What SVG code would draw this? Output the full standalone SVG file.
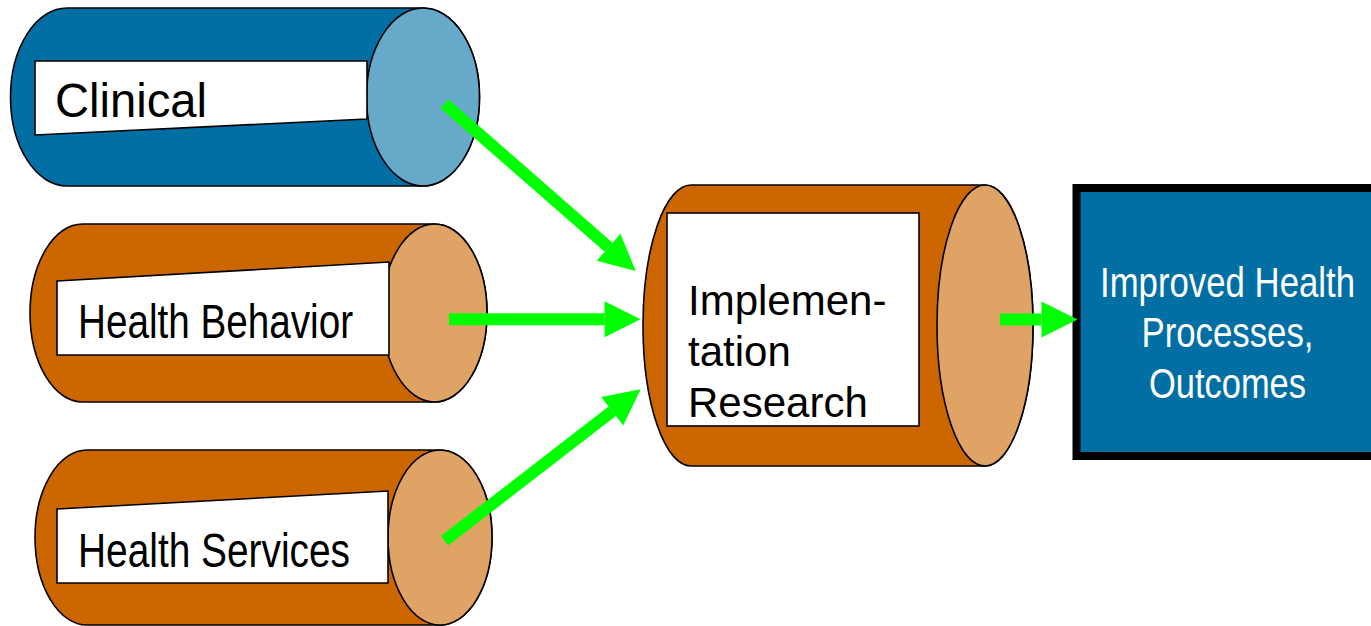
<svg xmlns="http://www.w3.org/2000/svg" width="1371" height="626" viewBox="0 0 1371 626">
<style>
.edge{stroke:#000;stroke-width:1.6}
.blue{fill:#026FA4}
.lblue{fill:#66A9C9}
.orange{fill:#CC6600}
.lorange{fill:#E0A366}
.label{fill:#fff;stroke:#000;stroke-width:1.6}
.t{font-family:"Liberation Sans",Arial,sans-serif;fill:#000}
.w{font-family:"Liberation Sans",Arial,sans-serif;fill:#fff;text-anchor:middle}
.arrow{stroke:#00FF00;stroke-width:12;fill:none}
</style>
<defs>
<marker id="ah" markerUnits="userSpaceOnUse" markerWidth="37" markerHeight="37" refX="0" refY="18" orient="auto" overflow="visible">
<path d="M0,0 L36,18 L0,36 Z" fill="#00FF00"/>
</marker>
</defs>
<rect width="1371" height="626" fill="#fff"/>

<g id="clinical">
<path class="blue edge" d="M67,8 L423,8 A56.5,89 0 0 1 423,186 L67,186 A56.5,89 0 0 1 67,8 Z"/>
<ellipse class="lblue edge" cx="423" cy="97" rx="56.5" ry="89"/>
<polygon class="label" points="35,61 367,61 367,119 35,135"/>
<text class="t" x="55" y="117" font-size="48" textLength="152" lengthAdjust="spacingAndGlyphs">Clinical</text>
</g>

<g id="health-behavior">
<path class="orange edge" d="M82.5,224 L434.5,224 A52.5,89 0 0 1 434.5,402 L82.5,402 A52.5,89 0 0 1 82.5,224 Z"/>
<ellipse class="lorange edge" cx="434.5" cy="313" rx="52.5" ry="89"/>
<polygon class="label" points="57,281 389,262 389,355 57,355"/>
<text class="t" x="78" y="338" font-size="48" textLength="275" lengthAdjust="spacingAndGlyphs">Health Behavior</text>
</g>

<g id="health-services">
<path class="orange edge" d="M87,450 L440,450 A52,87.5 0 0 1 440,625 L87,625 A52,87.5 0 0 1 87,450 Z"/>
<ellipse class="lorange edge" cx="440" cy="537.5" rx="52" ry="87.5"/>
<polygon class="label" points="57,509 388,491 388,583 57,583"/>
<text class="t" x="78" y="567" font-size="48" textLength="272" lengthAdjust="spacingAndGlyphs">Health Services</text>
</g>

<g id="implementation-research">
<path class="orange edge" d="M691,185 L985,185 A48,140.5 0 0 1 985,466 L691,466 A48,140.5 0 0 1 691,185 Z"/>
<ellipse class="lorange edge" cx="985" cy="325.5" rx="48" ry="140.5"/>
<rect class="label" x="667" y="213" width="252" height="213"/>
<text class="t" font-size="42"><tspan x="688" y="315">Implemen-</tspan><tspan x="688" y="366">tation</tspan><tspan x="688" y="417">Research</tspan></text>
</g>

<g id="outcomes">
<rect x="1076.5" y="188" width="300" height="268" fill="#026FA4" stroke="#000" stroke-width="8"/>
<text class="w" x="1227.5" y="297" font-size="42" textLength="255" lengthAdjust="spacingAndGlyphs">Improved Health</text>
<text class="w" x="1227.5" y="347" font-size="42" textLength="172" lengthAdjust="spacingAndGlyphs">Processes,</text>
<text class="w" x="1227.5" y="398" font-size="42" textLength="157" lengthAdjust="spacingAndGlyphs">Outcomes</text>
</g>

<g id="connectors">
<line class="arrow" x1="444.5" y1="103.7" x2="608.6" y2="247.3" marker-end="url(#ah)"/>
<line class="arrow" x1="449" y1="319.3" x2="604.5" y2="319.3" marker-end="url(#ah)"/>
<line class="arrow" x1="444.5" y1="540.8" x2="612.2" y2="411.3" marker-end="url(#ah)"/>
<line class="arrow" x1="1000" y1="319.5" x2="1041.5" y2="319.5" marker-end="url(#ah)"/>
</g>
</svg>
